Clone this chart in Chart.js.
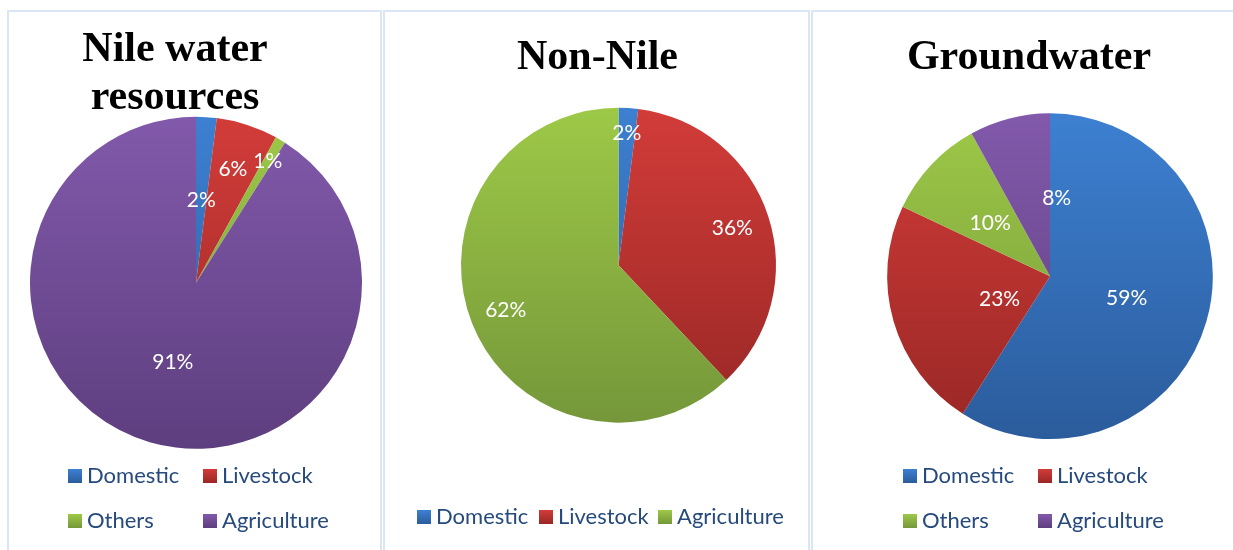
<!DOCTYPE html>
<html>
<head>
<meta charset="utf-8">
<script src="https://cdn.jsdelivr.net/npm/chart.js@4.4.0/dist/chart.umd.min.js"></script>
<style>
body { margin:0; width:1233px; height:550px; overflow:hidden; background:#fff; position:relative; }
.cell { position:absolute; top:10px; height:600px; border:2px solid #dae5f5; box-sizing:border-box; }
.wrap { position:absolute; top:0; height:550px; }
</style>
</head>
<body>
<div class="cell" style="left:7px;width:375px"></div>
<div class="cell" style="left:383px;width:427px"></div>
<div class="cell" style="left:811px;width:440px"></div>
<div class="wrap" style="left:-20px;width:390px"><canvas id="nile"></canvas></div>
<div class="wrap" style="left:386px;width:420px"><canvas id="nonnile"></canvas></div>
<div class="wrap" style="left:828px;width:400px"><canvas id="ground"></canvas></div>
<script>
// values in percent
const nileLabels = ['Domestic', 'Livestock', 'Others', 'Agriculture'];
const nileValues = [2, 6, 1, 91];
const nonNileLabels = ['Domestic', 'Livestock', 'Agriculture'];
const nonNileValues = [2, 36, 62];
const groundLabels = ['Domestic', 'Livestock', 'Others', 'Agriculture'];
const groundValues = [59, 23, 10, 8];

// top / bottom shade, by slice order (blue, red, green, purple)
const shades = [
    ['#3d80d1', '#2b5c9c'],
    ['#d23c39', '#982725'],
    ['#9dc947', '#75973a'],
    ['#8259ab', '#5d3e7e']
];

function sliceFill(c) {
    const chart = c.chart;
    const area = chart.chartArea;
    const s = shades[c.dataIndex];
    if (!area) return s[0];
    const g = chart.ctx.createLinearGradient(0, area.top, 0, area.bottom);
    g.addColorStop(0, s[0]);
    g.addColorStop(1, s[1]);
    return g;
}

// the titles sit a little left of the pie centres
const titleShift = {
    id: 'titleShift',
    afterLayout(chart, args, opts) {
        chart.titleBlock.left += opts.dx;
        chart.titleBlock.right += opts.dx;
    }
};

const pctLabels = {
    id: 'pctLabels',
    afterDatasetsDraw(chart, args, opts) {
        const ctx = chart.ctx;
        const meta = chart.getDatasetMeta(0);
        ctx.save();
        ctx.font = '21px Lato';
        ctx.fillStyle = '#ffffff';
        ctx.textAlign = 'center';
        ctx.textBaseline = 'middle';
        meta.data.forEach(function (arc, i) {
            const p = arc.getProps(['x', 'y', 'startAngle', 'endAngle', 'outerRadius'], true);
            const pos = opts.pos[i] || [0.5, 0.5];
            const a = p.startAngle + (p.endAngle - p.startAngle) * pos[1];
            const r = p.outerRadius * pos[0];
            ctx.fillText(chart.data.datasets[0].data[i] + '%', p.x + Math.cos(a) * r, p.y + Math.sin(a) * r);
        });
        ctx.restore();
    }
};

const gridLegend = {
    id: 'gridLegend',
    afterDraw(chart, args, opts) {
        const ctx = chart.ctx;
        ctx.save();
        ctx.font = '22px Lato';
        ctx.textBaseline = 'middle';
        ctx.textAlign = 'left';
        chart.data.labels.forEach(function (name, i) {
            const x = opts.at[i][0], y = opts.at[i][1];
            const g = ctx.createLinearGradient(0, y, 0, y + 14);
            g.addColorStop(0, shades[i][0]);
            g.addColorStop(1, shades[i][1]);
            ctx.fillStyle = g;
            ctx.fillRect(x, y, 14, 14);
            ctx.fillStyle = '#264a7d';
            ctx.fillText(name, x + 19, y + 7);
        });
        ctx.restore();
    }
};

function makePie(id, labels, values, title, titlePad, pad, pos, legendAt) {
    return new Chart(document.getElementById(id), {
        type: 'pie',
        data: {
            labels: labels,
            datasets: [{
                data: values,
                backgroundColor: sliceFill,
                borderWidth: 0,
                hoverBorderWidth: 0,
                hoverOffset: 0
            }]
        },
        options: {
            responsive: true,
            maintainAspectRatio: false,
            animation: false,
            events: [],
            layout: { padding: pad },
            plugins: {
                legend: { display: false },
                tooltip: { enabled: false },
                title: {
                    display: true,
                    text: title,
                    color: '#000000',
                    font: { family: '"Liberation Serif", "Times New Roman", serif', size: 42, weight: 'bold', lineHeight: 1.15 },
                    padding: titlePad
                },
                titleShift: { dx: -21 },
                pctLabels: { pos: pos },
                gridLegend: { at: legendAt }
            }
        },
        plugins: [titleShift, pctLabels, gridLegend]
    });
}

makePie('nile', nileLabels, nileValues, ['Nile water', 'resources'],
    { top: 26, bottom: -6 },
    { left: 50, right: 8, top: 0, bottom: 101 },
    [[0.5, 0.5], [0.72, 0.5], [0.85, 0.5], [0.5, 0.5]],
    [[88, 469], [223, 469], [88, 514], [223, 514]]);

makePie('nonnile', nonNileLabels, nonNileValues, 'Non-Nile',
    { top: 34, bottom: 25 },
    { left: 75, right: 30, top: 0, bottom: 127 },
    [[0.84, 0.5], [0.76, 0.5], [0.77, 0.5]],
    [[31, 510], [153, 510], [272, 510]]);

makePie('ground', groundLabels, groundValues, 'Groundwater',
    { top: 34, bottom: 31 },
    { left: 59, right: 15, top: 0, bottom: 111 },
    [[0.49, 0.5], [0.34, 0.4], [0.49, 0.45], [0.48, 1.17]],
    [[75, 469], [210, 469], [75, 514], [210, 514]]);
</script>
</body>
</html>
